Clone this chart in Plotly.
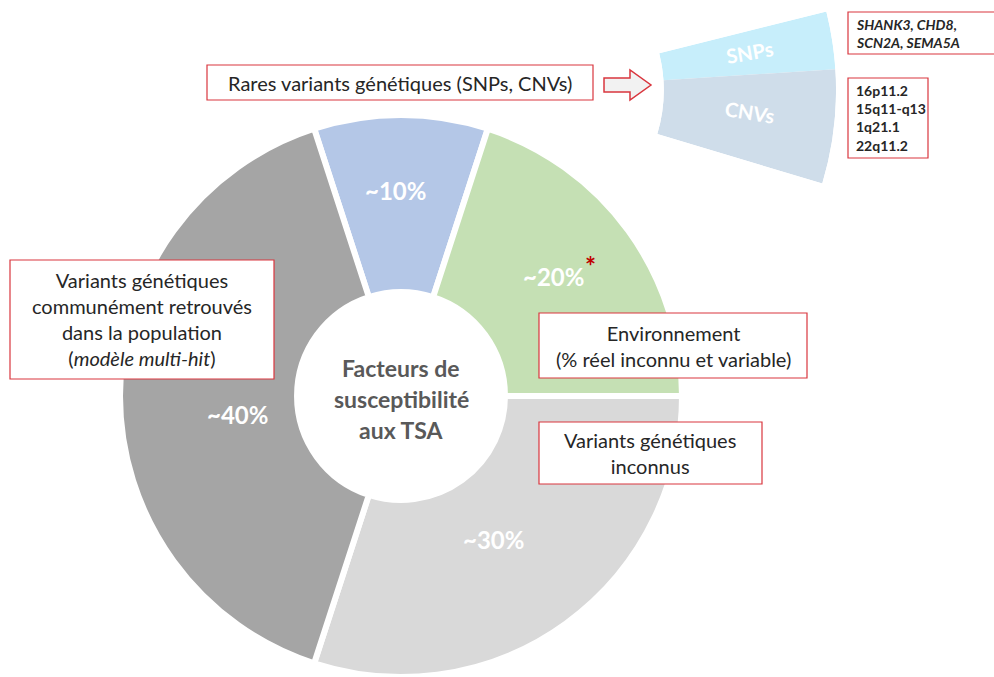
import plotly.graph_objects as go

W, H = 994, 677

# ---- data ----
categories = ["Rares variants génétiques", "Environnement", "Variants génétiques inconnus",
              "Variants génétiques communs"]
values = [10, 20, 30, 40]
slice_labels = ["~10%", "~20%", "~30%", "~40%"]
slice_colors = ["#B4C7E7", "#C5E0B4", "#D9D9D9", "#A5A5A5"]

rare_categories = ["SNPs", "CNVs"]
rare_widths_deg = [10.3, 20.4]          # angular share
rare_colors = ["#C7EEFB", "#CFDDEA"]

snp_genes = ["SHANK3, CHD8,", "SCN2A, SEMA5A"]
cnv_loci = ["16p11.2", "15q11-q13", "1q21.1", "22q11.2"]
centre_lines = ["Facteurs de", "susceptibilité", "aux TSA"]

FONT = "Lato"
RED = "#D9363E"


def px(x):
    return x / W


def py(y):
    return 1 - y / H


fig = go.Figure()

# main donut
cx, cy, R = 401, 396, 281
fig.add_trace(go.Pie(
    labels=categories, values=values, sort=False, direction="clockwise",
    rotation=-18, hole=0.37, textinfo="none", hoverinfo="label+value",
    marker=dict(colors=slice_colors, line=dict(color="white", width=6)),
    domain=dict(x=[px(cx - R), px(cx + R)], y=[py(cy + R), py(cy - R)]),
    showlegend=False,
))

# inset ring segment (zoom on the rare variants)
start = -16.7
thetas = []
acc = start
for w in reversed(rare_widths_deg):
    thetas.append(acc + w / 2)
    acc += w
thetas = list(reversed(thetas))
sector = [start, start + sum(rare_widths_deg)]
fig.add_trace(go.Barpolar(
    r=[1, 1], theta=thetas, width=rare_widths_deg,
    marker=dict(color=rare_colors, line=dict(width=0)),
    text=rare_categories, hoverinfo="text", showlegend=False, subplot="polar",
))
icx, icy, iR = 511, 89, 325
fig.update_layout(polar=dict(
    domain=dict(x=[px(icx), px(icx + iR)], y=[py(184), py(11)]),
    sector=sector, hole=0.47, bgcolor="rgba(0,0,0,0)",
    radialaxis=dict(visible=False, range=[0, 1]),
    angularaxis=dict(visible=False, showgrid=False),
))

annotations = []
shapes = []


def text(x, y, s, size, color="#262626", bold=False, xanchor="center", angle=0, align="center"):
    if bold:
        s = "<b>" + s + "</b>"
    annotations.append(dict(
        x=px(x), y=py(y), xref="paper", yref="paper", text=s, showarrow=False,
        xanchor=xanchor, yanchor="middle", align=align, textangle=angle,
        font=dict(family=FONT, size=size, color=color),
    ))


def box(x0, y0, x1, y1):
    shapes.append(dict(type="rect", xref="paper", yref="paper",
                       x0=px(x0), x1=px(x1), y0=py(y1), y1=py(y0),
                       line=dict(color=RED, width=1.2), fillcolor="white", layer="above"))


# slice labels
label_pos = [(395, 191), (553, 276), (493, 539), (237, 414)]
for (x, y), s in zip(label_pos, slice_labels):
    text(x, y, s, 24, color="white", bold=True)
text(590, 266, "*", 26, color="#C00000", bold=True)

# centre text
for y, s in zip([368, 399, 430], centre_lines):
    text(cx, y, s, 23, color="#595959", bold=True)

# boxes
box(207, 65, 593, 100)
text(400, 83, "Rares variants génétiques (SNPs, CNVs)", 20)

box(10, 260, 274, 379)
text(142, 319, "Variants génétiques<br>communément retrouvés<br>dans la population<br>(<i>modèle multi-hit</i>)", 20)

box(539, 313, 807, 378)
text(673, 346, "Environnement<br>(% réel inconnu et variable)", 20)

box(539, 422, 762, 484)
text(650, 453, "Variants génétiques<br>inconnus", 20)

box(848, 12, 1000, 54)
text(854, 34, "<b><i>" + "<br>".join(snp_genes) + "</i></b>", 14, xanchor="left", align="left")

box(848, 78, 928, 158)
text(854, 118, "<b>" + "<br>".join(cnv_loci) + "</b>", 14, xanchor="left", align="left")

# inset labels
text(750, 52, rare_categories[0], 20, color="white", bold=True, angle=-10)
text(750, 112, rare_categories[1], 20, color="white", bold=True, angle=9)

# arrow
pts = [(604, 78), (630, 78), (630, 70), (651, 85), (630, 100), (630, 92), (604, 92)]
path = "M " + " L ".join(f"{px(x):.5f},{py(y):.5f}" for x, y in pts) + " Z"
shapes.append(dict(type="path", xref="paper", yref="paper", path=path,
                   fillcolor="#F2F2F2", line=dict(color=RED, width=1.5)))

fig.update_layout(
    width=W, height=H, margin=dict(l=0, r=0, t=0, b=0),
    paper_bgcolor="white", plot_bgcolor="white",
    annotations=annotations, shapes=shapes, showlegend=False,
)

fig.write_html(
    "out.html",
    config={"displayModeBar": False},
    post_script="document.body.style.margin='0';document.body.style.overflow='hidden';",
)
